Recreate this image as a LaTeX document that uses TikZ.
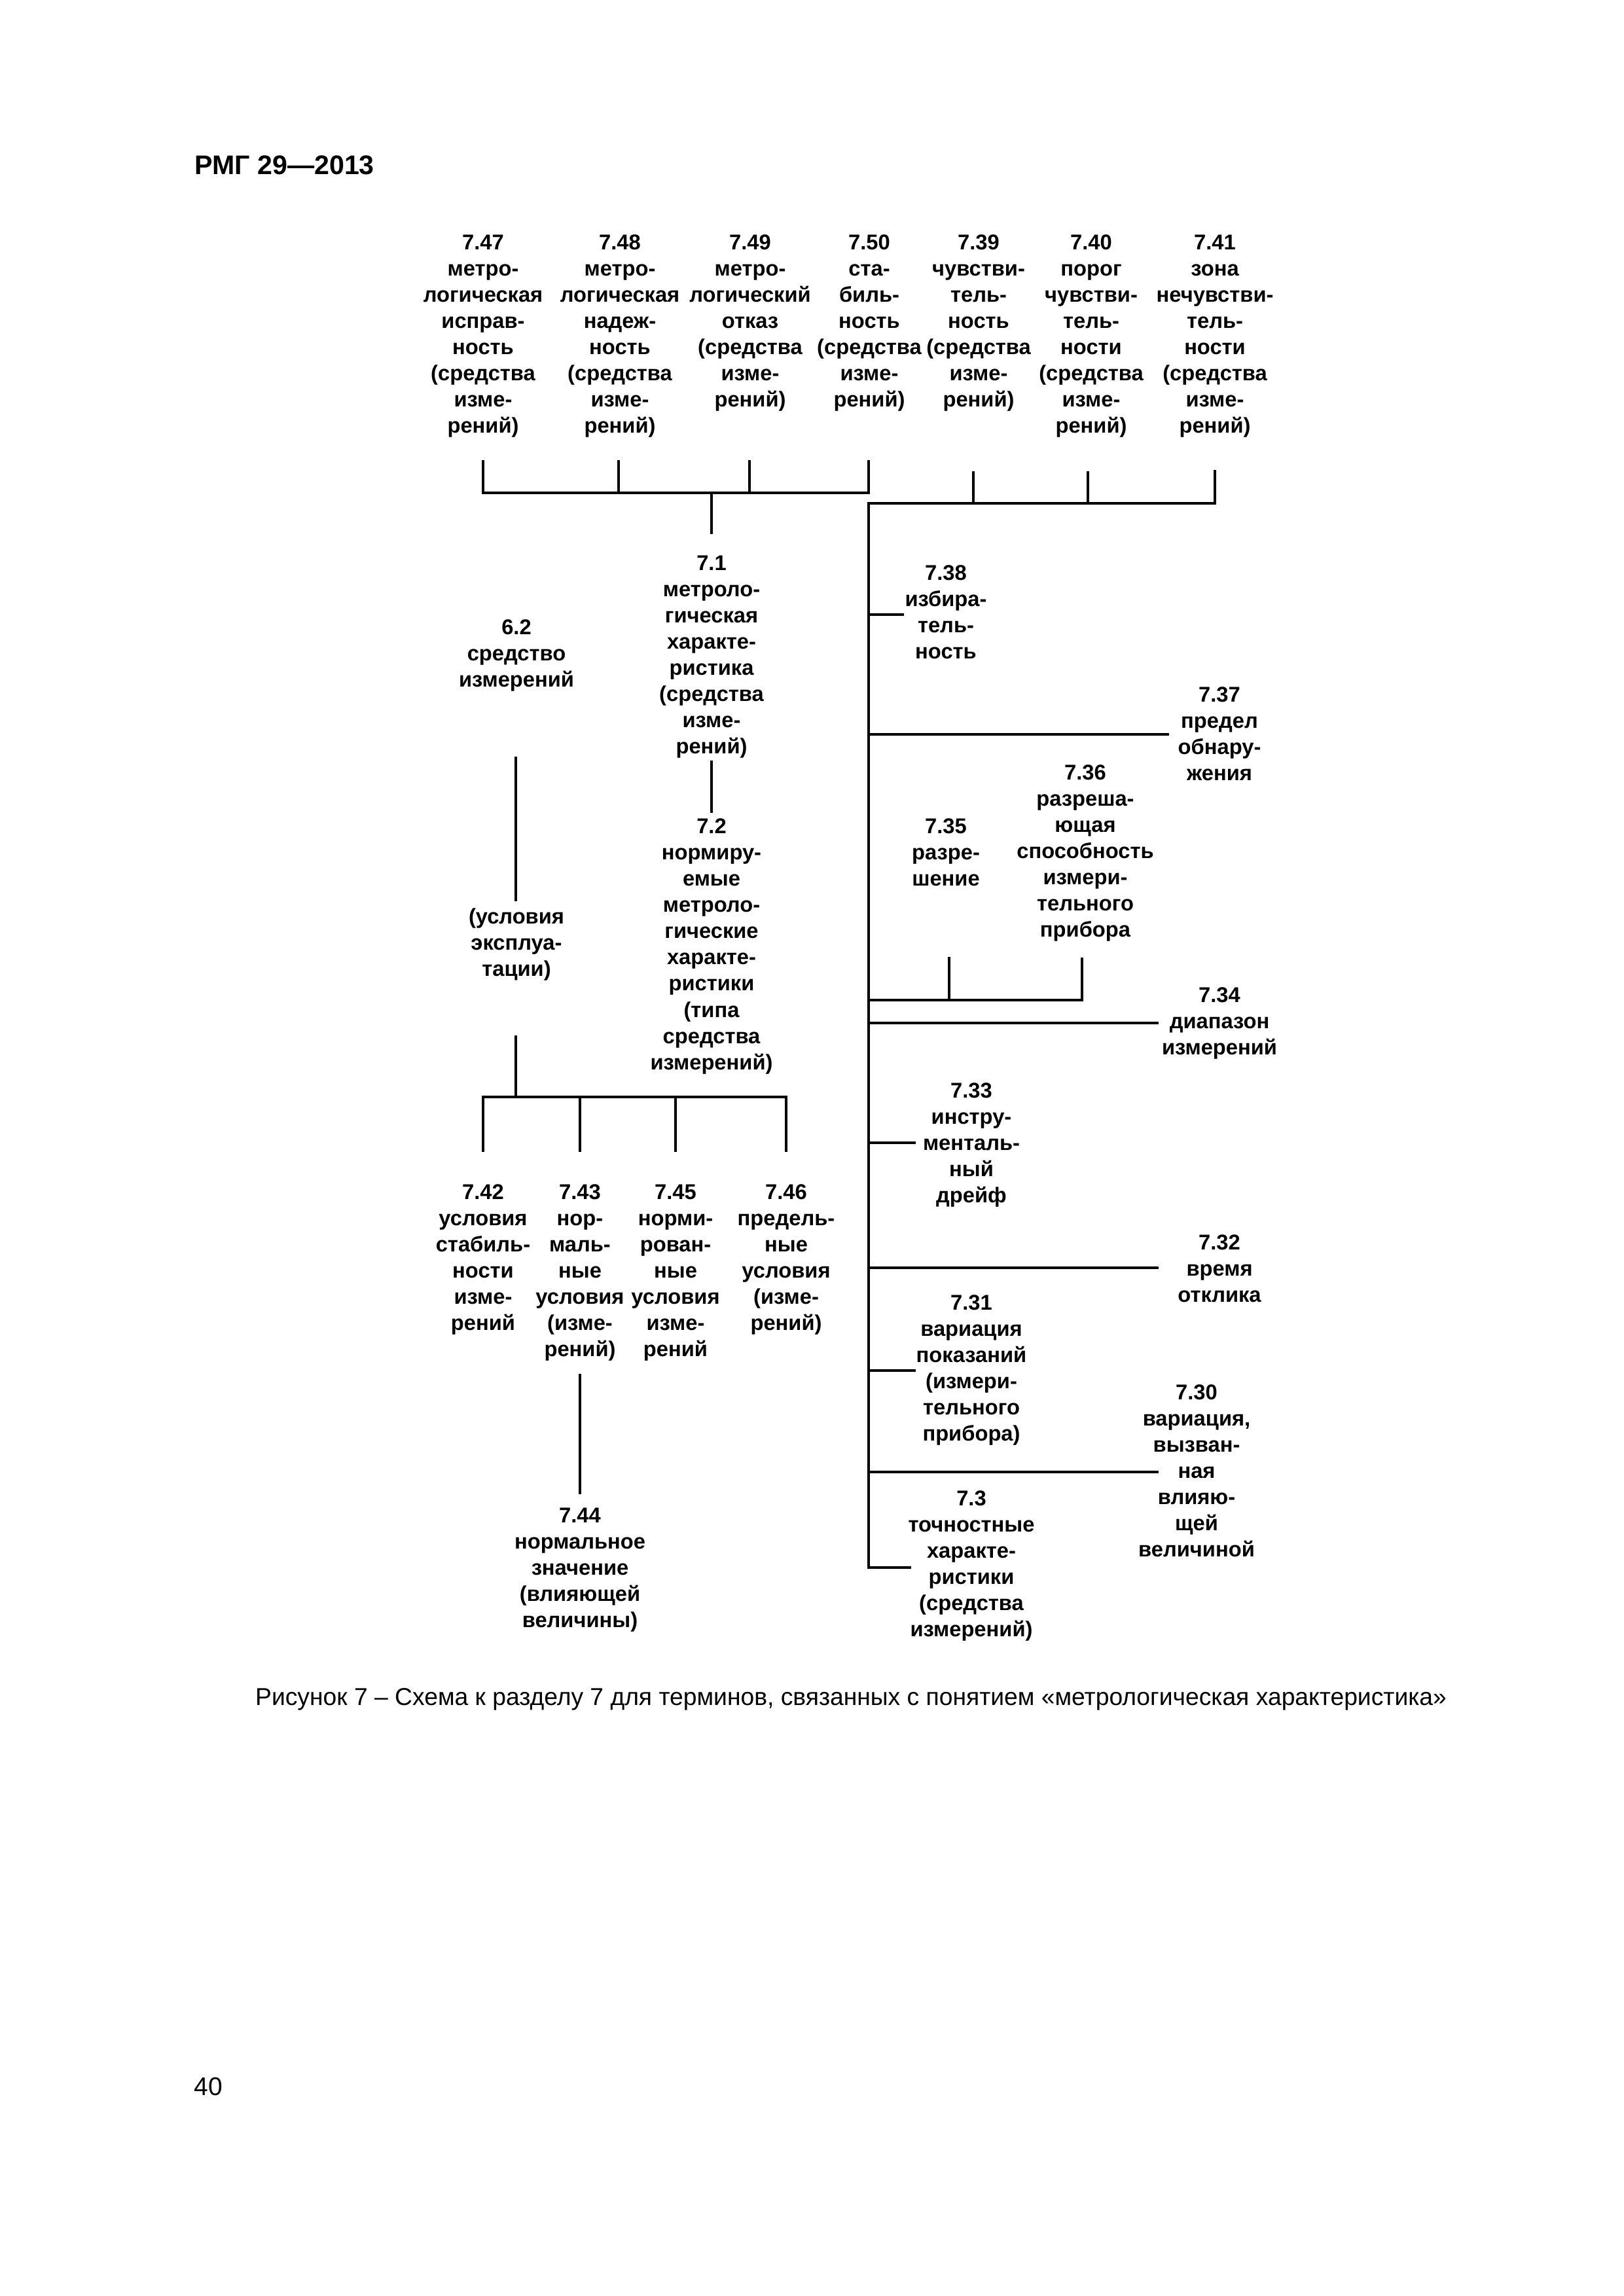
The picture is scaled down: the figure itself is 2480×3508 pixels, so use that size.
\documentclass[tikz,border=0pt]{standalone}
\usepackage{fontspec}
\setmainfont{Liberation Sans}
\begin{document}
\begin{tikzpicture}[x=0.1mm,y=-0.1mm,
  lbl/.style={align=center,inner sep=0pt,anchor=north,font=\fontsize{9.3}{11.4}\selectfont\bfseries},
  ln/.style={line width=1.1pt}]
\useasboundingbox (0,0) rectangle (2480,3508);

% header, caption, page number
\node[anchor=base west,inner sep=0pt,font=\fontsize{11.7}{13}\selectfont\bfseries] (hdr) at (297,267) {РМГ 29—2013};
\node[anchor=base,inner sep=0pt,font=\fontsize{10.6}{12}\selectfont] (cap) at (1300,2605) {Рисунок 7 – Схема к разделу 7 для терминов, связанных с понятием «метрологическая характеристика»};
\node[anchor=base west,inner sep=0pt,font=\fontsize{11.1}{13}\selectfont] (pg) at (296,3201) {40};

% top row
\node[lbl] (n747) at (738,358) {7.47\\метро-\\логическая\\исправ-\\ность\\(средства\\изме-\\рений)};
\node[lbl] (n748) at (947,358) {7.48\\метро-\\логическая\\надеж-\\ность\\(средства\\изме-\\рений)};
\node[lbl] (n749) at (1146,358) {7.49\\метро-\\логический\\отказ\\(средства\\изме-\\рений)};
\node[lbl] (n750) at (1328,358) {7.50\\ста-\\биль-\\ность\\(средства\\изме-\\рений)};
\node[lbl] (n739) at (1495,358) {7.39\\чувстви-\\тель-\\ность\\(средства\\изме-\\рений)};
\node[lbl] (n740) at (1667,358) {7.40\\порог\\чувстви-\\тель-\\ности\\(средства\\изме-\\рений)};
\node[lbl] (n741) at (1856,358) {7.41\\зона\\нечувстви-\\тель-\\ности\\(средства\\изме-\\рений)};

% centre column
\node[lbl] (n71) at (1087,848) {7.1\\метроло-\\гическая\\характе-\\ристика\\(средства\\изме-\\рений)};
\node[lbl] (n72) at (1087,1250) {7.2\\нормиру-\\емые\\метроло-\\гические\\характе-\\ристики\\(типа\\средства\\измерений)};

% left column
\node[lbl] (n62) at (789,946) {6.2\\средство\\измерений};
\node[lbl] (usl) at (789,1387) {(условия\\эксплуа-\\тации)};
\node[lbl] (n742) at (738,1809) {7.42\\условия\\стабиль-\\ности\\изме-\\рений};
\node[lbl] (n743) at (886,1809) {7.43\\нор-\\маль-\\ные\\условия\\(изме-\\рений)};
\node[lbl] (n745) at (1032,1809) {7.45\\норми-\\рован-\\ные\\условия\\изме-\\рений};
\node[lbl] (n746) at (1201,1809) {7.46\\предель-\\ные\\условия\\(изме-\\рений)};
\node[lbl] (n744) at (886,2303) {7.44\\нормальное\\значение\\(влияющей\\величины)};

% right column
\node[lbl] (n738) at (1445,863) {7.38\\избира-\\тель-\\ность};
\node[lbl] (n737) at (1863,1049) {7.37\\предел\\обнару-\\жения};
\node[lbl] (n736) at (1658,1168) {7.36\\разреша-\\ющая\\способность\\измери-\\тельного\\прибора};
\node[lbl] (n735) at (1445,1250) {7.35\\разре-\\шение};
\node[lbl] (n734) at (1863,1508) {7.34\\диапазон\\измерений};
\node[lbl] (n733) at (1484,1654) {7.33\\инстру-\\менталь-\\ный\\дрейф};
\node[lbl] (n732) at (1863,1886) {7.32\\время\\отклика};
\node[lbl] (n731) at (1484,1978) {7.31\\вариация\\показаний\\(измери-\\тельного\\прибора)};
\node[lbl] (n730) at (1828,2115) {7.30\\вариация,\\вызван-\\ная\\влияю-\\щей\\величиной};
\node[lbl] (n73) at (1484,2277) {7.3\\точностные\\характе-\\ристики\\(средства\\измерений)};

% ---- connectors ----
% top-left bracket
\coordinate (tA) at (738,703);  \coordinate (hA) at (738,753);
\coordinate (tB) at (945,703);  \coordinate (hB) at (945,753);
\coordinate (tC) at (1145,703); \coordinate (hC) at (1145,753);
\coordinate (tD) at (1327,703); \coordinate (hD) at (1327,753);
\coordinate (hM) at (1087,753); \coordinate (c71) at (1087,816);
\draw[ln] (tA) -- (hA) -- (hD) -- (tD);
\draw[ln] (tB) -- (hB);
\draw[ln] (tC) -- (hC);
\draw[ln] (hM) -- (c71);

% top-right bracket and trunk
\coordinate (r39) at (1487,720);  \coordinate (k39) at (1487,769);
\coordinate (r40) at (1662,720);  \coordinate (k40) at (1662,769);
\coordinate (r41) at (1856,718);  \coordinate (k41) at (1856,769);
\coordinate (trT) at (1327,769);  \coordinate (trB) at (1327,2395);
\coordinate (e73) at (1392,2395);
\draw[ln] (r41) -- (k41) -- (trT) -- (trB) -- (e73);
\draw[ln] (r39) -- (k39);
\draw[ln] (r40) -- (k40);

% branches from trunk
\coordinate (b738) at (1327,939);  \coordinate (e738) at (1381,939);
\coordinate (b737) at (1327,1122); \coordinate (e737) at (1786,1122);
\coordinate (b735) at (1327,1528); \coordinate (e736) at (1653,1528);
\coordinate (m735) at (1450,1528); \coordinate (t735) at (1450,1462);
\coordinate (t736) at (1653,1463);
\coordinate (b734) at (1327,1563); \coordinate (e734) at (1770,1563);
\coordinate (b733) at (1327,1746); \coordinate (e733) at (1399,1746);
\coordinate (b732) at (1327,1937); \coordinate (e732) at (1770,1937);
\coordinate (b731) at (1327,2094); \coordinate (e731) at (1399,2094);
\coordinate (b730) at (1327,2249); \coordinate (e730) at (1770,2249);
\draw[ln] (b738) -- (e738);
\draw[ln] (b737) -- (e737);
\draw[ln] (b735) -- (e736) -- (t736);
\draw[ln] (m735) -- (t735);
\draw[ln] (b734) -- (e734);
\draw[ln] (b733) -- (e733);
\draw[ln] (b732) -- (e732);
\draw[ln] (b731) -- (e731);
\draw[ln] (b730) -- (e730);

% centre
\coordinate (s71) at (1087,1162); \coordinate (s72) at (1087,1242);
\draw[ln] (s71) -- (s72);

% left column
\coordinate (s62) at (788,1156);  \coordinate (su1) at (788,1377);
\coordinate (su2) at (788,1582);  \coordinate (sb) at (788,1676);
\draw[ln] (s62) -- (su1);
\draw[ln] (su2) -- (sb);
\coordinate (bL) at (738,1676);  \coordinate (dL) at (738,1760);
\coordinate (b43) at (886,1676); \coordinate (d43) at (886,1760);
\coordinate (b45) at (1032,1676); \coordinate (d45) at (1032,1760);
\coordinate (bR) at (1201,1676); \coordinate (dR) at (1201,1760);
\draw[ln] (dL) -- (bL) -- (bR) -- (dR);
\draw[ln] (b43) -- (d43);
\draw[ln] (b45) -- (d45);
\coordinate (s743) at (886,2099); \coordinate (s744) at (886,2283);
\draw[ln] (s743) -- (s744);
\end{tikzpicture}
\end{document}
